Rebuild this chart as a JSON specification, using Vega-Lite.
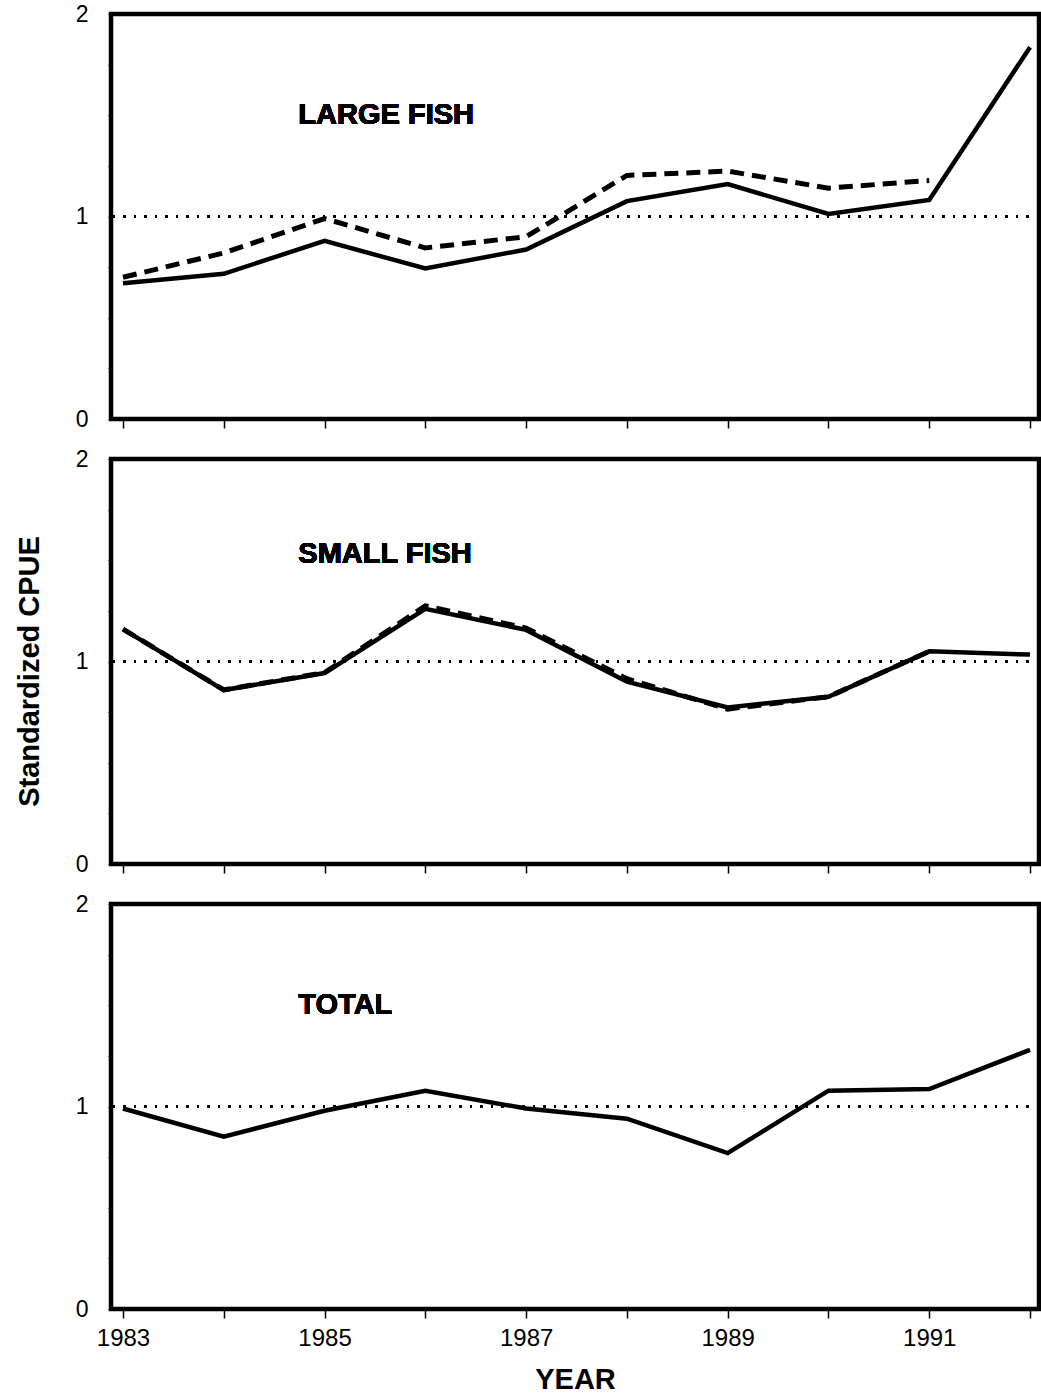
{
  "$schema": "https://vega.github.io/schema/vega-lite/v6.json",
  "padding": {"left": 12, "top": 0, "right": 0, "bottom": 0},
  "background": "white",
  "config": {
    "view": {"stroke": "black", "strokeWidth": 4.5},
    "font": "Liberation Sans",
    "axis": {"domain": false, "grid": false, "tickColor": "black", "labelColor": "black", "titleColor": "black", "labelFlush": false, "labelOverlap": false}
  },
  "datasets": {
    "cpue": [
      {"panel": "large", "series": "solid", "year": 1983, "cpue": 0.67},
      {"panel": "large", "series": "solid", "year": 1984, "cpue": 0.717},
      {"panel": "large", "series": "solid", "year": 1985, "cpue": 0.88},
      {"panel": "large", "series": "solid", "year": 1986, "cpue": 0.743},
      {"panel": "large", "series": "solid", "year": 1987, "cpue": 0.837},
      {"panel": "large", "series": "solid", "year": 1988, "cpue": 1.076},
      {"panel": "large", "series": "solid", "year": 1989, "cpue": 1.16},
      {"panel": "large", "series": "solid", "year": 1990, "cpue": 1.013},
      {"panel": "large", "series": "solid", "year": 1991, "cpue": 1.082},
      {"panel": "large", "series": "solid", "year": 1992, "cpue": 1.836},
      {"panel": "large", "series": "dashed", "year": 1983, "cpue": 0.70},
      {"panel": "large", "series": "dashed", "year": 1984, "cpue": 0.82},
      {"panel": "large", "series": "dashed", "year": 1985, "cpue": 0.99},
      {"panel": "large", "series": "dashed", "year": 1986, "cpue": 0.845},
      {"panel": "large", "series": "dashed", "year": 1987, "cpue": 0.90},
      {"panel": "large", "series": "dashed", "year": 1988, "cpue": 1.203},
      {"panel": "large", "series": "dashed", "year": 1989, "cpue": 1.224},
      {"panel": "large", "series": "dashed", "year": 1990, "cpue": 1.14},
      {"panel": "large", "series": "dashed", "year": 1991, "cpue": 1.178},
      {"panel": "small", "series": "solid", "year": 1983, "cpue": 1.16},
      {"panel": "small", "series": "solid", "year": 1984, "cpue": 0.859},
      {"panel": "small", "series": "solid", "year": 1985, "cpue": 0.943},
      {"panel": "small", "series": "solid", "year": 1986, "cpue": 1.26},
      {"panel": "small", "series": "solid", "year": 1987, "cpue": 1.156},
      {"panel": "small", "series": "solid", "year": 1988, "cpue": 0.90},
      {"panel": "small", "series": "solid", "year": 1989, "cpue": 0.773},
      {"panel": "small", "series": "solid", "year": 1990, "cpue": 0.826},
      {"panel": "small", "series": "solid", "year": 1991, "cpue": 1.05},
      {"panel": "small", "series": "solid", "year": 1992, "cpue": 1.034},
      {"panel": "small", "series": "dashed", "year": 1983, "cpue": 1.16},
      {"panel": "small", "series": "dashed", "year": 1984, "cpue": 0.86},
      {"panel": "small", "series": "dashed", "year": 1985, "cpue": 0.945},
      {"panel": "small", "series": "dashed", "year": 1986, "cpue": 1.275},
      {"panel": "small", "series": "dashed", "year": 1987, "cpue": 1.165},
      {"panel": "small", "series": "dashed", "year": 1988, "cpue": 0.915},
      {"panel": "small", "series": "dashed", "year": 1989, "cpue": 0.765},
      {"panel": "small", "series": "dashed", "year": 1990, "cpue": 0.826},
      {"panel": "small", "series": "dashed", "year": 1991, "cpue": 1.05},
      {"panel": "total", "series": "solid", "year": 1983, "cpue": 0.99},
      {"panel": "total", "series": "solid", "year": 1984, "cpue": 0.851},
      {"panel": "total", "series": "solid", "year": 1985, "cpue": 0.979},
      {"panel": "total", "series": "solid", "year": 1986, "cpue": 1.078},
      {"panel": "total", "series": "solid", "year": 1987, "cpue": 0.99},
      {"panel": "total", "series": "solid", "year": 1988, "cpue": 0.94},
      {"panel": "total", "series": "solid", "year": 1989, "cpue": 0.77},
      {"panel": "total", "series": "solid", "year": 1990, "cpue": 1.078},
      {"panel": "total", "series": "solid", "year": 1991, "cpue": 1.086},
      {"panel": "total", "series": "solid", "year": 1992, "cpue": 1.28}
    ]
  },
  "vconcat": [
    {
      "width": 928, "height": 405,
      "data": {"name": "cpue"},
      "transform": [{"filter": "datum.panel == 'large'"}],
      "encoding": {
        "x": {"field": "year", "type": "quantitative", "scale": {"domain": [1982.881, 1992.089], "nice": false, "zero": false},
              "axis": {"values": [1983,1984,1985,1986,1987,1988,1989,1990,1991,1992], "labels": false, "title": null, "tickSize": 9, "tickWidth": 1.5}},
        "y": {"field": "cpue", "type": "quantitative", "scale": {"domain": [0, 2], "nice": false},
              "axis": {"values": [0,0.25,0.5,0.75,1,1.25,1.5,1.75,2], "labelExpr": "datum.value == 0 ? '0' : datum.value == 1 ? '1' : datum.value == 2 ? '2' : ''", "tickSize": 3, "labelPadding": 20, "labelFontSize": 23, "title": null}}
      },
      "layer": [
        {"mark": {"type": "rule", "strokeDash": [2, 8.5], "strokeWidth": 2, "color": "black"}, "encoding": {"y": {"datum": 1}, "x": null}},
        {"transform": [{"filter": "datum.series == 'dashed'"}], "mark": {"type": "line", "color": "black", "strokeWidth": 5, "strokeDash": [14, 8]}},
        {"transform": [{"filter": "datum.series == 'solid'"}], "mark": {"type": "line", "color": "black", "strokeWidth": 4.5}},
        {"mark": {"type": "text", "text": "LARGE FISH", "align": "left", "baseline": "middle", "fontSize": 29, "fontWeight": "bold", "color": "black"}, "encoding": {"x": {"datum": 1984.74}, "y": {"datum": 1.5}}}
      ]
    },
    {
      "width": 928, "height": 405,
      "data": {"name": "cpue"},
      "transform": [{"filter": "datum.panel == 'small'"}],
      "encoding": {
        "x": {"field": "year", "type": "quantitative", "scale": {"domain": [1982.881, 1992.089], "nice": false, "zero": false},
              "axis": {"values": [1983,1984,1985,1986,1987,1988,1989,1990,1991,1992], "labels": false, "title": null, "tickSize": 9, "tickWidth": 1.5}},
        "y": {"field": "cpue", "type": "quantitative", "scale": {"domain": [0, 2], "nice": false},
              "axis": {"values": [0,0.25,0.5,0.75,1,1.25,1.5,1.75,2], "labelExpr": "datum.value == 0 ? '0' : datum.value == 1 ? '1' : datum.value == 2 ? '2' : ''", "tickSize": 3, "labelPadding": 20, "labelFontSize": 23, "title": "Standardized CPUE", "titleFontSize": 29, "titleFontWeight": "bold", "titlePadding": 31, "titleY": 212}}
      },
      "layer": [
        {"mark": {"type": "rule", "strokeDash": [2, 8.5], "strokeWidth": 2, "color": "black"}, "encoding": {"y": {"datum": 1}, "x": null}},
        {"transform": [{"filter": "datum.series == 'dashed'"}], "mark": {"type": "line", "color": "black", "strokeWidth": 5, "strokeDash": [14, 8]}},
        {"transform": [{"filter": "datum.series == 'solid'"}], "mark": {"type": "line", "color": "black", "strokeWidth": 4.5}},
        {"mark": {"type": "text", "text": "SMALL FISH", "align": "left", "baseline": "middle", "fontSize": 29, "fontWeight": "bold", "color": "black"}, "encoding": {"x": {"datum": 1984.74}, "y": {"datum": 1.53}}}
      ]
    },
    {
      "width": 928, "height": 405,
      "data": {"name": "cpue"},
      "transform": [{"filter": "datum.panel == 'total'"}],
      "encoding": {
        "x": {"field": "year", "type": "quantitative", "scale": {"domain": [1982.881, 1992.089], "nice": false, "zero": false},
              "axis": {"values": [1983,1984,1985,1986,1987,1988,1989,1990,1991,1992], "format": "d", "labelExpr": "datum.value % 2 == 1 ? datum.label : ''", "tickSize": 9, "tickWidth": 1.5, "labelPadding": 8, "labelFontSize": 24, "labelFont": "'Liberation Sans Narrow', 'Liberation Sans'", "title": "YEAR", "titleFontSize": 29, "titleFontWeight": "bold", "titlePadding": 15}},
        "y": {"field": "cpue", "type": "quantitative", "scale": {"domain": [0, 2], "nice": false},
              "axis": {"values": [0,0.25,0.5,0.75,1,1.25,1.5,1.75,2], "labelExpr": "datum.value == 0 ? '0' : datum.value == 1 ? '1' : datum.value == 2 ? '2' : ''", "tickSize": 3, "labelPadding": 20, "labelFontSize": 23, "title": null}}
      },
      "layer": [
        {"mark": {"type": "rule", "strokeDash": [2, 8.5], "strokeWidth": 2, "color": "black"}, "encoding": {"y": {"datum": 1}, "x": null}},
        {"transform": [{"filter": "datum.series == 'solid'"}], "mark": {"type": "line", "color": "black", "strokeWidth": 4.5}},
        {"mark": {"type": "text", "text": "TOTAL", "align": "left", "baseline": "middle", "fontSize": 29, "fontWeight": "bold", "color": "black"}, "encoding": {"x": {"datum": 1984.74}, "y": {"datum": 1.5}}}
      ]
    }
  ],
  "spacing": 40,
  "bounds": "flush"
}
